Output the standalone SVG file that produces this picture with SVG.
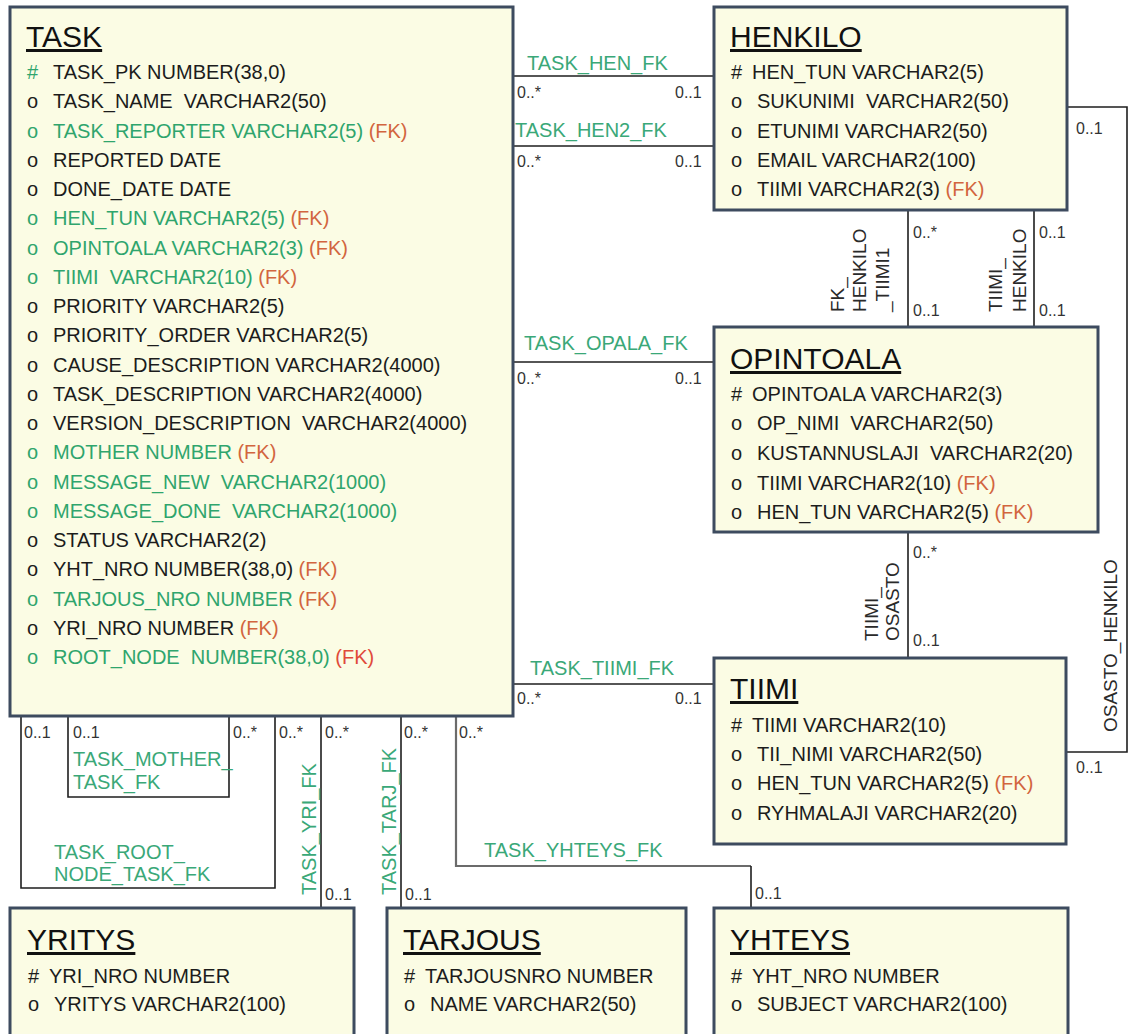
<svg xmlns="http://www.w3.org/2000/svg" width="1130" height="1034" viewBox="0 0 1130 1034">
  <style>
    .box { fill: #fbfce4; stroke: #3d4b5f; stroke-width: 3; }
    text { font-family: "Liberation Sans", Arial, sans-serif; white-space: pre; }
    .t { font-size: 20px; fill: #1c1c1c; }
    .g { fill: #2fa56d; }
    .fk { fill: #d2653e; }
    .fkr { fill: #e04a3a; }
    .title { font-size: 30px; fill: #111; text-decoration: underline; }
    .lbl { font-size: 20px; fill: #3aa878; }
    .rl { font-size: 19px; fill: #2a2a2a; }
    .m { font-size: 16px; fill: #333; }
    .ln { fill: none; stroke: #1e1e1e; stroke-width: 1.6; }
    .ln2 { fill: none; stroke: #6b6b6b; stroke-width: 2.2; }
  </style>

  <rect width="1130" height="1034" fill="#ffffff"/>

  <!-- relationship lines with their names and multiplicities -->
  <g id="connectors">
    <path class="ln" d="M513,76 H714"/>
    <path class="ln" d="M513,146 H714"/>
    <path class="ln" d="M513,362 H714"/>
    <path class="ln" d="M513,684 H714"/>
    <path class="ln" d="M908,210 V327"/>
    <path class="ln" d="M1034,210 V327"/>
    <path class="ln" d="M908,532 V658"/>
    <path class="ln" d="M1067,107 H1127 V752 H1066"/>
    <path class="ln" d="M21,716 V888 H275 V716"/>
    <path class="ln" d="M68,716 V797 H229 V716"/>
    <path class="ln" d="M321,716 V908"/>
    <path class="ln" d="M401,716 V908"/>
    <path class="ln2" d="M456,716 V866 H751"/>
    <path class="ln" d="M751,866 V908"/>

    <text class="lbl" x="527" y="70">TASK_HEN_FK</text>
    <text class="lbl" x="515" y="137">TASK_HEN2_FK</text>
    <text class="lbl" x="524" y="350">TASK_OPALA_FK</text>
    <text class="lbl" x="530" y="675">TASK_TIIMI_FK</text>
    <text class="lbl" x="484" y="857">TASK_YHTEYS_FK</text>
    <text class="lbl"><tspan x="73" y="766">TASK_MOTHER_</tspan><tspan x="73" y="789">TASK_FK</tspan></text>
    <text class="lbl"><tspan x="54" y="859">TASK_ROOT_</tspan><tspan x="54" y="881">NODE_TASK_FK</tspan></text>
    <text class="lbl" transform="translate(316,895) rotate(-90)">TASK_YRI_FK</text>
    <text class="lbl" transform="translate(396,895) rotate(-90)">TASK_TARJ_FK</text>

    <text class="rl" transform="translate(844,312) rotate(-90)"><tspan x="0" y="0">FK_</tspan><tspan x="0" dy="22">HENKILO</tspan><tspan x="0" dy="23">_TIIMI1</tspan></text>
    <text class="rl" transform="translate(1002,312) rotate(-90)"><tspan x="0" y="0">TIIMI_</tspan><tspan x="0" dy="24">HENKILO</tspan></text>
    <text class="rl" transform="translate(878,641) rotate(-90)"><tspan x="0" y="0">TIIMI_</tspan><tspan x="0" dy="21">OSASTO</tspan></text>
    <text class="rl" transform="translate(1117,732) rotate(-90)">OSASTO_HENKILO</text>

    <text class="m" x="517" y="98">0..*</text>
    <text class="m" x="675" y="98">0..1</text>
    <text class="m" x="517" y="167">0..*</text>
    <text class="m" x="675" y="167">0..1</text>
    <text class="m" x="517" y="384">0..*</text>
    <text class="m" x="675" y="384">0..1</text>
    <text class="m" x="517" y="704">0..*</text>
    <text class="m" x="675" y="704">0..1</text>
    <text class="m" x="913" y="238">0..*</text>
    <text class="m" x="913" y="316">0..1</text>
    <text class="m" x="1039" y="238">0..1</text>
    <text class="m" x="1039" y="316">0..1</text>
    <text class="m" x="913" y="558">0..*</text>
    <text class="m" x="913" y="646">0..1</text>
    <text class="m" x="1076" y="134">0..1</text>
    <text class="m" x="1076" y="773">0..1</text>
    <text class="m" x="24" y="738">0..1</text>
    <text class="m" x="73" y="738">0..1</text>
    <text class="m" x="233" y="738">0..*</text>
    <text class="m" x="279" y="738">0..*</text>
    <text class="m" x="325" y="738">0..*</text>
    <text class="m" x="404" y="738">0..*</text>
    <text class="m" x="459" y="738">0..*</text>
    <text class="m" x="325" y="900">0..1</text>
    <text class="m" x="405" y="900">0..1</text>
    <text class="m" x="755" y="899">0..1</text>
  </g>

  <!-- TASK -->
  <g id="task">
    <rect class="box" x="10" y="7" width="503" height="709"/>
    <text class="title" x="26" y="47">TASK</text>
    <text class="t" y="79"><tspan class="g" x="27">#</tspan><tspan x="53">TASK_PK NUMBER(38,0)</tspan></text>
    <text class="t" y="108"><tspan x="27">o</tspan><tspan x="53">TASK_NAME  VARCHAR2(50)</tspan></text>
    <text class="t g" y="138"><tspan x="27">o</tspan><tspan x="53">TASK_REPORTER VARCHAR2(5) </tspan><tspan class="fk">(FK)</tspan></text>
    <text class="t" y="167"><tspan x="27">o</tspan><tspan x="53">REPORTED DATE</tspan></text>
    <text class="t" y="196"><tspan x="27">o</tspan><tspan x="53">DONE_DATE DATE</tspan></text>
    <text class="t g" y="225"><tspan x="27">o</tspan><tspan x="53">HEN_TUN VARCHAR2(5) </tspan><tspan class="fk">(FK)</tspan></text>
    <text class="t g" y="255"><tspan x="27">o</tspan><tspan x="53">OPINTOALA VARCHAR2(3) </tspan><tspan class="fk">(FK)</tspan></text>
    <text class="t g" y="284"><tspan x="27">o</tspan><tspan x="53">TIIMI  VARCHAR2(10) </tspan><tspan class="fk">(FK)</tspan></text>
    <text class="t" y="313"><tspan x="27">o</tspan><tspan x="53">PRIORITY VARCHAR2(5)</tspan></text>
    <text class="t" y="342"><tspan x="27">o</tspan><tspan x="53">PRIORITY_ORDER VARCHAR2(5)</tspan></text>
    <text class="t" y="372"><tspan x="27">o</tspan><tspan x="53">CAUSE_DESCRIPTION VARCHAR2(4000)</tspan></text>
    <text class="t" y="401"><tspan x="27">o</tspan><tspan x="53">TASK_DESCRIPTION VARCHAR2(4000)</tspan></text>
    <text class="t" y="430"><tspan x="27">o</tspan><tspan x="53">VERSION_DESCRIPTION  VARCHAR2(4000)</tspan></text>
    <text class="t g" y="459"><tspan x="27">o</tspan><tspan x="53">MOTHER NUMBER </tspan><tspan class="fk">(FK)</tspan></text>
    <text class="t g" y="489"><tspan x="27">o</tspan><tspan x="53">MESSAGE_NEW  VARCHAR2(1000)</tspan></text>
    <text class="t g" y="518"><tspan x="27">o</tspan><tspan x="53">MESSAGE_DONE  VARCHAR2(1000)</tspan></text>
    <text class="t" y="547"><tspan x="27">o</tspan><tspan x="53">STATUS VARCHAR2(2)</tspan></text>
    <text class="t" y="576"><tspan x="27">o</tspan><tspan x="53">YHT_NRO NUMBER(38,0) </tspan><tspan class="fk">(FK)</tspan></text>
    <text class="t g" y="606"><tspan x="27">o</tspan><tspan x="53">TARJOUS_NRO NUMBER </tspan><tspan class="fk">(FK)</tspan></text>
    <text class="t" y="635"><tspan x="27">o</tspan><tspan x="53">YRI_NRO NUMBER </tspan><tspan class="fk">(FK)</tspan></text>
    <text class="t g" y="664"><tspan x="27">o</tspan><tspan x="53">ROOT_NODE  NUMBER(38,0) </tspan><tspan class="fkr">(FK)</tspan></text>
  </g>

  <!-- HENKILO -->
  <g id="henkilo">
    <rect class="box" x="714" y="7" width="353" height="203"/>
    <text class="title" x="730" y="47">HENKILO</text>
    <text class="t" y="79"><tspan x="731">#</tspan><tspan x="752">HEN_TUN VARCHAR2(5)</tspan></text>
    <text class="t" y="108"><tspan x="731">o</tspan><tspan x="757">SUKUNIMI  VARCHAR2(50)</tspan></text>
    <text class="t" y="138"><tspan x="731">o</tspan><tspan x="757">ETUNIMI VARCHAR2(50)</tspan></text>
    <text class="t" y="167"><tspan x="731">o</tspan><tspan x="757">EMAIL VARCHAR2(100)</tspan></text>
    <text class="t" y="196"><tspan x="731">o</tspan><tspan x="757">TIIMI VARCHAR2(3) </tspan><tspan class="fk">(FK)</tspan></text>
  </g>

  <!-- OPINTOALA -->
  <g id="opintoala">
    <rect class="box" x="714" y="327" width="384" height="205"/>
    <text class="title" x="730" y="369">OPINTOALA</text>
    <text class="t" y="401"><tspan x="731">#</tspan><tspan x="752">OPINTOALA VARCHAR2(3)</tspan></text>
    <text class="t" y="430"><tspan x="731">o</tspan><tspan x="757">OP_NIMI  VARCHAR2(50)</tspan></text>
    <text class="t" y="460"><tspan x="731">o</tspan><tspan x="757">KUSTANNUSLAJI  VARCHAR2(20)</tspan></text>
    <text class="t" y="490"><tspan x="731">o</tspan><tspan x="757">TIIMI VARCHAR2(10) </tspan><tspan class="fk">(FK)</tspan></text>
    <text class="t" y="519"><tspan x="731">o</tspan><tspan x="757">HEN_TUN VARCHAR2(5) </tspan><tspan class="fk">(FK)</tspan></text>
  </g>

  <!-- TIIMI -->
  <g id="tiimi">
    <rect class="box" x="714" y="658" width="352" height="186"/>
    <text class="title" x="730" y="699">TIIMI</text>
    <text class="t" y="732"><tspan x="731">#</tspan><tspan x="752">TIIMI VARCHAR2(10)</tspan></text>
    <text class="t" y="761"><tspan x="731">o</tspan><tspan x="757">TII_NIMI VARCHAR2(50)</tspan></text>
    <text class="t" y="790"><tspan x="731">o</tspan><tspan x="757">HEN_TUN VARCHAR2(5) </tspan><tspan class="fk">(FK)</tspan></text>
    <text class="t" y="820"><tspan x="731">o</tspan><tspan x="757">RYHMALAJI VARCHAR2(20)</tspan></text>
  </g>

  <!-- YRITYS -->
  <g id="yritys">
    <rect class="box" x="10" y="908" width="344" height="140"/>
    <text class="title" x="27" y="950">YRITYS</text>
    <text class="t" y="983"><tspan x="28">#</tspan><tspan x="49">YRI_NRO NUMBER</tspan></text>
    <text class="t" y="1011"><tspan x="28">o</tspan><tspan x="54">YRITYS VARCHAR2(100)</tspan></text>
  </g>

  <!-- TARJOUS -->
  <g id="tarjous">
    <rect class="box" x="387" y="908" width="299" height="140"/>
    <text class="title" x="403" y="950">TARJOUS</text>
    <text class="t" y="983"><tspan x="404">#</tspan><tspan x="425">TARJOUSNRO NUMBER</tspan></text>
    <text class="t" y="1011"><tspan x="404">o</tspan><tspan x="430">NAME VARCHAR2(50)</tspan></text>
  </g>

  <!-- YHTEYS -->
  <g id="yhteys">
    <rect class="box" x="714" y="908" width="354" height="140"/>
    <text class="title" x="730" y="950">YHTEYS</text>
    <text class="t" y="983"><tspan x="731">#</tspan><tspan x="752">YHT_NRO NUMBER</tspan></text>
    <text class="t" y="1011"><tspan x="731">o</tspan><tspan x="757">SUBJECT VARCHAR2(100)</tspan></text>
  </g>
</svg>
